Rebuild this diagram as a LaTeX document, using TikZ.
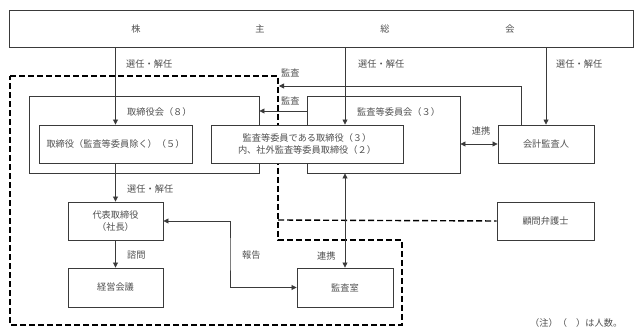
\documentclass[tikz,border=0pt]{standalone}
\usepackage{fontspec}
\setmainfont{Noto Sans CJK JP}
\usetikzlibrary{arrows.meta}
\definecolor{txt}{HTML}{505050}
\definecolor{ln}{HTML}{3A3A3A}
\begin{document}
\begin{tikzpicture}[x=1pt,y=-1pt,
  every node/.style={text=txt,font=\fontsize{9.2}{11}\selectfont,inner sep=0pt},
  box/.style={draw=ln,line width=0.9pt,fill=white,align=center},
  arr/.style={draw=ln,line width=0.8pt,-{Triangle[length=5pt,width=5pt]}},
  arrb/.style={draw=ln,line width=0.8pt,{Triangle[length=5pt,width=5pt]}-{Triangle[length=5pt,width=5pt]}},
  dashline/.style={draw=black,line width=1.4pt,dash pattern=on 6pt off 3pt},
  lbl/.style={anchor=west}]
\useasboundingbox (0,0) rectangle (642,336);
\fill[white] (0,0) rectangle (642,336);
% top box
\node[box,minimum width=624pt,minimum height=37pt] (top) at (321,28.5) {};
\node (t1) at (136,29) {株};
\node (t2) at (260,29) {主};
\node (t3) at (385,29) {総};
\node (t4) at (510,29) {会};
% dashed boundary
\draw[dashline] (10,76) -- (278,76) -- (278,240) -- (402,240) -- (402,325) -- (10,325) -- cycle;
% big boxes
\node[box,minimum width=230pt,minimum height=77pt] (tb) at (144,134.5) {};
\node[box,minimum width=153pt,minimum height=77pt] (ac) at (383.5,134.5) {};
\node[box,minimum width=97pt,minimum height=38pt] (lawyer) at (545.5,221) {顧問弁護士};
\draw[dashline] (278,220) -- (lawyer.west);
% inner boxes
\node[box,minimum width=153pt,minimum height=38pt] (d1) at (115.5,144) {取締役（監査等委員除く）（５）};
\node[box,minimum width=192pt,minimum height=38pt] (d2) at (307,144) {監査等委員である取締役（３）\\[1pt]内、社外監査等委員取締役（２）};
\node[box,minimum width=96pt,minimum height=38pt] (aud) at (546,144) {会計監査人};
\node[box,minimum width=95pt,minimum height=38pt] (rep) at (115.5,221) {代表取締役\\[1pt]（社長）};
\node[box,minimum width=95pt,minimum height=39pt] (mg) at (115.5,287.5) {経営会議};
\node[box,minimum width=96pt,minimum height=39pt] (off) at (345,287.5) {監査室};
% coordinates
\coordinate (kA) at (279,86);
\coordinate (y111) at (0,111);
\coordinate (kB) at (230,254);
% connectors
\draw[arr] (d1.north |- top.south) -- (d1.north);
\draw[arr] (top.south -| off.north) -- (d2.north -| off.north);
\draw[arr] (top.south -| aud.north) -- (aud.north);
\draw[arr] ([xshift=-25pt]aud.north) |- (kA);
\draw[arr] (ac.west |- y111) -- (tb.east |- y111);
\draw[arrb] (ac.east |- aud.west) -- (aud.west);
\draw[arr] (d1.south) -- (rep.north);
\draw[arr] (rep.south) -- (mg.north);
\draw[arrb] (rep.east) -| (kB) |- (off.west);
\draw[arrb] (ac.south -| off.north) -- (off.north);
% labels
\node[lbl] (l1) at (126,64) {選任・解任};
\node[lbl] (l2) at (358,64) {選任・解任};
\node[lbl] (l3) at (556,64) {選任・解任};
\node[lbl] (l4) at (281,73) {監査};
\node[lbl] (l5) at (281,101) {監査};
\node[lbl] (l6) at (127,112) {取締役会（８）};
\node[lbl] (l7) at (357,112) {監査等委員会（３）};
\node (l8) at (481,131) {連携};
\node[lbl] (l9) at (127,189) {選任・解任};
\node[lbl] (l10) at (127,255) {諮問};
\node[lbl] (l11) at (242,255) {報告};
\node[lbl] (l12) at (317,256) {連携};
\node[lbl] (l13) at (530,323) {（注）（　）は人数。};
\end{tikzpicture}
\end{document}
